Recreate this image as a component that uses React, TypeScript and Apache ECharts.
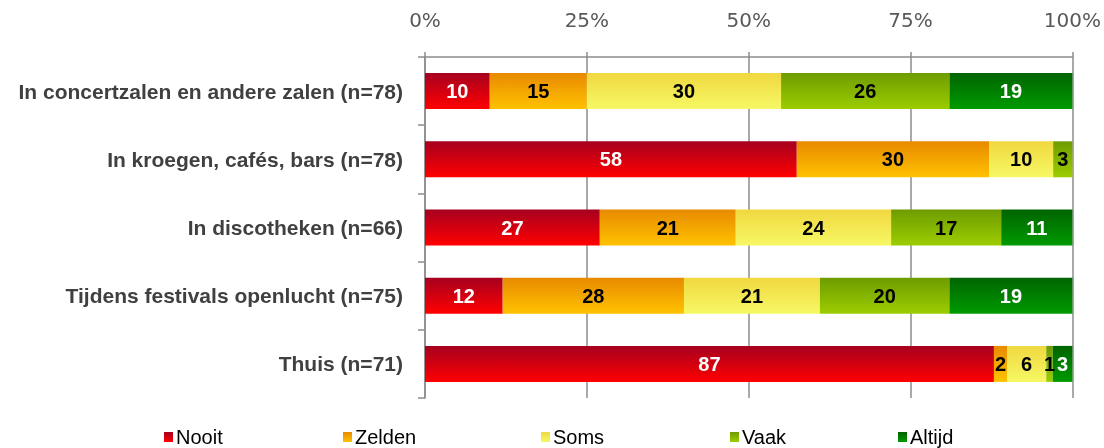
import React, { useEffect, useRef } from "react";
import * as echarts from "echarts";

const categories = [
  "In concertzalen en andere zalen (n=78)",
  "In kroegen, cafés, bars (n=78)",
  "In discotheken (n=66)",
  "Tijdens festivals openlucht (n=75)",
  "Thuis (n=71)",
];
const seriesNames = ["Nooit", "Zelden", "Soms", "Vaak", "Altijd"];
const nooit = [10, 58, 27, 12, 87];
const zelden = [15, 30, 21, 28, 2];
const soms = [30, 10, 24, 21, 6];
const vaak = [26, 3, 17, 20, 1];
const altijd = [19, 0, 11, 19, 3];
const xTicks = [0, 25, 50, 75, 100];

const gradTop = ["#a60020", "#e88a00", "#f0d840", "#6e9c00", "#006400"];
const gradBottom = ["#ff0000", "#ffc200", "#f6f864", "#9ccd00", "#009a00"];
const labelColors = ["#ffffff", "#000000", "#000000", "#000000", "#ffffff"];
const legendLeft = [164, 343, 541, 730, 898];

export default function App() {
  const ref = useRef<HTMLDivElement>(null);
  useEffect(() => {
    if (!ref.current) return;
    const chart = echarts.init(ref.current, null, { renderer: "svg" });
    const raw = [nooit, zelden, soms, vaak, altijd];
    const totals = categories.map((_, i) => raw.reduce((s, arr) => s + arr[i], 0));
    const font = "'Liberation Sans Narrow', 'Liberation Sans', Arial, sans-serif";
    const series = raw.map((arr, k) => ({
      name: seriesNames[k],
      type: "bar",
      stack: "total",
      barWidth: 36,
      data: arr.map((v, i) => ({ value: (v / totals[i]) * 100, raw: v })),
      itemStyle: {
        color: new echarts.graphic.LinearGradient(0, 0, 0, 1, [
          { offset: 0, color: gradTop[k] },
          { offset: 1, color: gradBottom[k] },
        ]),
      },
      label: {
        show: true,
        position: "inside",
        color: labelColors[k],
        fontWeight: "bold",
        fontSize: 20,
        fontFamily: font,
        formatter: (p: any) => (p.data.raw === 0 ? "" : String(p.data.raw)),
      },
    }));
    chart.setOption({
      animation: false,
      grid: { left: 425, right: 30, top: 57, bottom: 50, containLabel: false },
      xAxis: {
        type: "value",
        position: "top",
        min: 0,
        max: 100,
        interval: 25,
        axisLine: { show: true, lineStyle: { color: "#8c8c8c", width: 1.5 } },
        axisTick: { show: true, length: 5, lineStyle: { color: "#8c8c8c", width: 1.5 } },
        splitLine: { show: true, lineStyle: { color: "#8c8c8c", width: 1.5 } },
        axisLabel: {
          margin: 27,
          color: "#595959",
          fontSize: 20,
          fontFamily: "'DejaVu Sans', sans-serif",
          formatter: (v: number) => (xTicks.includes(v) ? v + "%" : ""),
        },
      },
      yAxis: {
        type: "category",
        inverse: true,
        data: categories,
        axisLine: { show: true, lineStyle: { color: "#8c8c8c", width: 1.5 } },
        axisTick: { show: true, length: 7, lineStyle: { color: "#8c8c8c", width: 1.5 } },
        axisLabel: {
          margin: 22,
          color: "#404040",
          fontWeight: "bold",
          fontSize: 21,
          fontFamily: "'Liberation Sans', Arial, sans-serif",
        },
      },
      legend: seriesNames.map((n, k) => ({
        data: [n],
        left: legendLeft[k],
        top: 427,
        padding: 0,
        icon: "rect",
        itemWidth: 9,
        itemHeight: 10,
        textStyle: { fontSize: 20, color: "#000", fontFamily: font, padding: [0, 0, 0, -2] },
      })),
      series,
    });
    return () => chart.dispose();
  }, []);
  return (
    <div
      ref={ref}
      style={{ position: "fixed", left: 0, top: 0, width: 1104, height: 448 }}
    />
  );
}
